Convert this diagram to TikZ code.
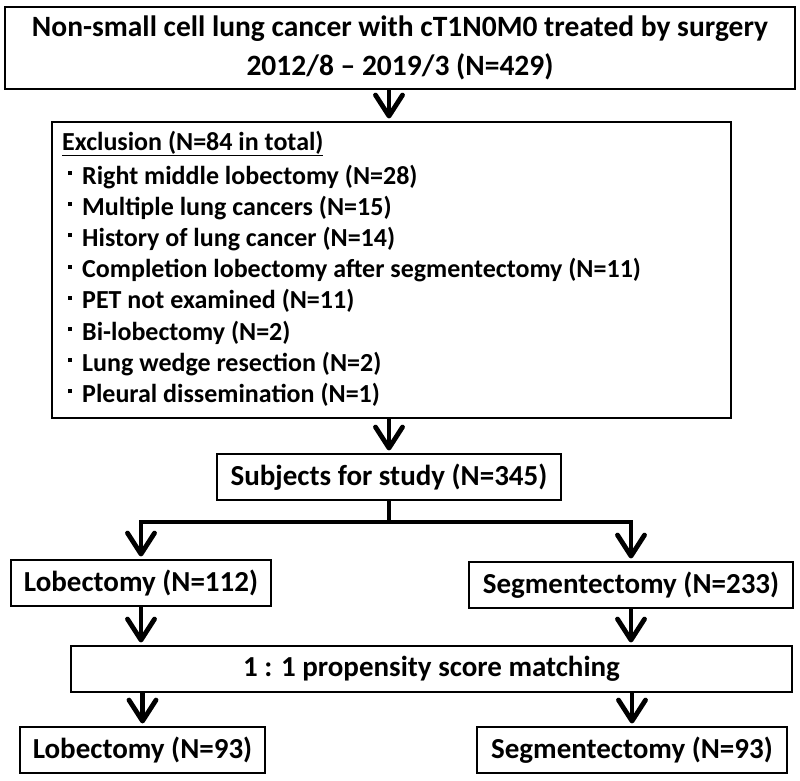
\documentclass[tikz,border=0pt]{standalone}
\usepackage{fontspec}
\setmainfont{Carlito}
\usetikzlibrary{arrows.meta}
\begin{document}
\begin{tikzpicture}[x=1pt,y=-1pt,
  box/.style={draw, line width=1.1pt, inner sep=0pt, align=center,
    font=\bfseries\fontsize{29}{39}\selectfont},
  txt/.style={inner sep=0pt, anchor=base west,
    font=\bfseries\fontsize{26}{30}\selectfont},
  ln/.style={line width=4.8pt, line join=miter},
  arr/.style={line width=4.8pt, line join=miter, shorten >=3pt,
    -{Straight Barb[length=21pt,width=27pt,round]}}]
\useasboundingbox (0,0) rectangle (800,780);
\fill[white] (0,0) rectangle (800,780);

\node[box, minimum width=790pt, minimum height=82pt, font=\bfseries\fontsize{29.5}{39}\selectfont] (top) at (400,48)
  {Non-small cell lung cancer with cT1N0M0 treated by surgery\\2012/8 – 2019/3 (N=429)};

\node[box, minimum width=679pt, minimum height=296pt] (excl) at (391.5,270) {};
\node[txt] (h) at (62,150) {\underline{Exclusion (N=84 in total)}};
\node[txt] (e1) at (68,184.0) {\rule[9pt]{4pt}{4pt}\hspace{10pt}Right middle lobectomy (N=28)};
\node[txt] (e2) at (68,215.2) {\rule[9pt]{4pt}{4pt}\hspace{10pt}Multiple lung cancers (N=15)};
\node[txt] (e3) at (68,246.4) {\rule[9pt]{4pt}{4pt}\hspace{10pt}History of lung cancer (N=14)};
\node[txt] (e4) at (68,277.6) {\rule[9pt]{4pt}{4pt}\hspace{10pt}Completion lobectomy after segmentectomy (N=11)};
\node[txt] (e5) at (68,308.8) {\rule[9pt]{4pt}{4pt}\hspace{10pt}PET not examined (N=11)};
\node[txt] (e6) at (68,340.0) {\rule[9pt]{4pt}{4pt}\hspace{10pt}Bi-lobectomy (N=2)};
\node[txt] (e7) at (68,371.2) {\rule[9pt]{4pt}{4pt}\hspace{10pt}Lung wedge resection (N=2)};
\node[txt] (e8) at (68,402.4) {\rule[9pt]{4pt}{4pt}\hspace{10pt}Pleural dissemination (N=1)};

\node[box, minimum width=344pt, minimum height=46pt] (subj) at (389,477) {Subjects for study (N=345)};

\node[box, minimum width=260pt, minimum height=46pt] (lob1) at (141,583) {Lobectomy (N=112)};
\node[box, minimum width=324pt, minimum height=46pt] (seg1) at (631,585) {Segmentectomy (N=233)};

\node[box, minimum width=721pt, minimum height=46pt] (prop) at (431.5,669) {1 : 1 propensity score matching};

\node[box, minimum width=245pt, minimum height=46pt] (lob2) at (142.5,750) {Lobectomy (N=93)};
\node[box, minimum width=310pt, minimum height=46pt] (seg2) at (632,750) {Segmentectomy (N=93)};

\coordinate (j) at (389,522);

\draw[arr] (top.south -| subj.north) -- (excl.north -| subj.north);
\draw[arr] (excl.south -| subj.north) -- (subj.north);
\draw[ln] (subj.south) -- (j);
\draw[arr] (j) -| (lob1.north);
\draw[arr] (j) -| (seg1.north);
\draw[arr] (lob1.south) -- (lob1.south |- prop.north);
\draw[arr] (seg1.south) -- (seg1.south |- prop.north);
\draw[arr] (lob2.north |- prop.south) -- (lob2.north);
\draw[arr] (seg2.north |- prop.south) -- (seg2.north);
\end{tikzpicture}
\end{document}
